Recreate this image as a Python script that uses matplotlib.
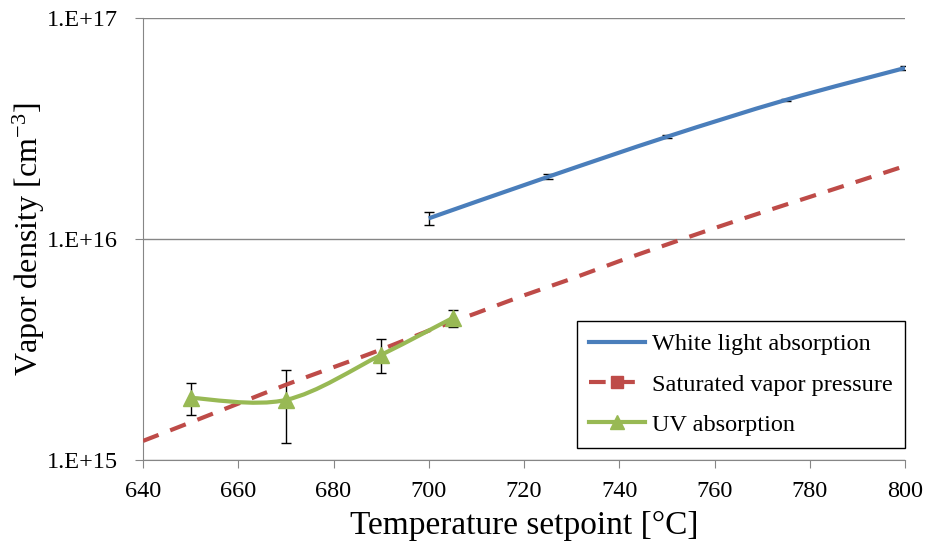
import numpy as np
import matplotlib
matplotlib.use("Agg")
import matplotlib.pyplot as plt
from matplotlib.path import Path
from matplotlib.patches import PathPatch
from matplotlib.lines import Line2D
from matplotlib.ticker import FixedLocator, FuncFormatter, NullLocator

plt.rcParams['font.family'] = ['Liberation Serif', 'DejaVu Serif']
plt.rcParams['mathtext.default'] = 'regular'

# data
white_t = [700, 725, 750, 775, 800]
white_n = [1.24e16, 1.91e16, 2.90e16, 4.26e16, 5.94e16]
white_err = [0.085e16, 0.05e16, 0.05e16, 0.06e16, 0.10e16]

sat_t = [640, 650, 660, 670, 680, 690, 700, 710, 720, 730, 740, 750,
         760, 770, 780, 790, 800]
sat_n = [1.22e15, 1.48e15, 1.80e15, 2.19e15, 2.63e15, 3.16e15, 3.85e15,
         4.62e15, 5.56e15, 6.61e15, 7.94e15, 9.44e15, 1.12e16, 1.32e16,
         1.55e16, 1.82e16, 2.14e16]

uv_t = [650, 670, 690, 705]
uv_n = [1.91e15, 1.87e15, 2.99e15, 4.39e15]
uv_err = [0.31e15, 0.68e15, 0.52e15, 0.38e15]

x_ticks = [640, 660, 680, 700, 720, 740, 760, 780, 800]
y_ticks = [1e15, 1e16, 1e17]

BLUE = '#4A7EBB'
RED = '#BE4B48'
GREEN = '#98B954'
GRAY = '#868686'


def smooth_path(xs, ys):
    """Excel-like smoothed line: cubic Bezier through the points (log y)."""
    px = np.asarray(xs, float)
    py = np.log10(np.asarray(ys, float))
    n = len(px)
    verts = [(px[0], py[0])]
    codes = [Path.MOVETO]
    for i in range(n - 1):
        p0 = (px[max(i - 1, 0)], py[max(i - 1, 0)])
        p1 = (px[i], py[i])
        p2 = (px[i + 1], py[i + 1])
        p3 = (px[min(i + 2, n - 1)], py[min(i + 2, n - 1)])
        c1 = (p1[0] + (p2[0] - p0[0]) / 6, p1[1] + (p2[1] - p0[1]) / 6)
        c2 = (p2[0] - (p3[0] - p1[0]) / 6, p2[1] - (p3[1] - p1[1]) / 6)
        verts += [c1, c2, p2]
        codes += [Path.CURVE4] * 3
    verts = [(vx, 10 ** vy) for vx, vy in verts]
    return Path(verts, codes)


fig = plt.figure(figsize=(9.25, 5.5), dpi=100)
ax = fig.add_axes([0.1546, 0.1636, 0.8238, 0.8037])
ax.set_yscale('log')

# error bars
ax.errorbar(white_t, white_n, yerr=white_err, fmt='none', ecolor='black',
            elinewidth=1, capsize=3.6, capthick=1, zorder=2)
ax.errorbar(uv_t, uv_n, yerr=uv_err, fmt='none', ecolor='black',
            elinewidth=1, capsize=3.6, capthick=1, zorder=2)

# smoothed lines
ax.add_patch(PathPatch(smooth_path(white_t, white_n), fill=False,
                       edgecolor=BLUE, lw=3, zorder=3))
ax.add_patch(PathPatch(smooth_path(sat_t, sat_n), fill=False,
                       edgecolor=RED, lw=3, linestyle=(0, (4, 3)), zorder=3))
ax.add_patch(PathPatch(smooth_path(uv_t, uv_n), fill=False,
                       edgecolor=GREEN, lw=3, zorder=4))
ax.plot(uv_t, uv_n, linestyle='none', marker='^', markersize=11,
        color=GREEN, zorder=5)

ax.set_xlim(640, 800)
ax.set_ylim(1e15, 1e17)
ax.xaxis.set_major_locator(FixedLocator(x_ticks))
ax.yaxis.set_major_locator(FixedLocator(y_ticks))
ax.yaxis.set_minor_locator(NullLocator())
ax.yaxis.set_major_formatter(
    FuncFormatter(lambda v, p: '1.E+%d' % int(round(np.log10(v)))))

ax.grid(axis='y', color=GRAY, lw=1)
ax.set_axisbelow(True)
for s in ['top', 'right']:
    ax.spines[s].set_visible(False)
for s in ['left', 'bottom']:
    ax.spines[s].set_color(GRAY)
ax.tick_params(direction='out', length=6, color=GRAY, labelsize=17.5)
ax.tick_params(axis='x', pad=9)
ax.tick_params(axis='y', pad=12)

ax.set_xlabel('Temperature setpoint [°C]', fontsize=24, labelpad=6)
ax.set_ylabel('Vapor density [cm$^{-3}$]', fontsize=23)
ax.yaxis.set_label_coords(-0.126, 0.5)

handles = [
    Line2D([], [], color=BLUE, lw=3),
    Line2D([], [], color=RED, lw=3, linestyle=(0, (4, 3)), marker='s',
           markersize=9),
    Line2D([], [], color=GREEN, lw=3, marker='^', markersize=10),
]
labels = ['White light absorption', 'Saturated vapor pressure',
          'UV absorption']
leg = ax.legend(handles, labels, loc='lower right',
                bbox_to_anchor=(1.0, 0.027), borderaxespad=0,
                fontsize=17.5, fancybox=False, framealpha=1,
                edgecolor='black', handlelength=2.3, handletextpad=0.3,
                labelspacing=0.75, borderpad=0.5)
leg.get_frame().set_linewidth(1)

fig.savefig('out.png', dpi=100)
